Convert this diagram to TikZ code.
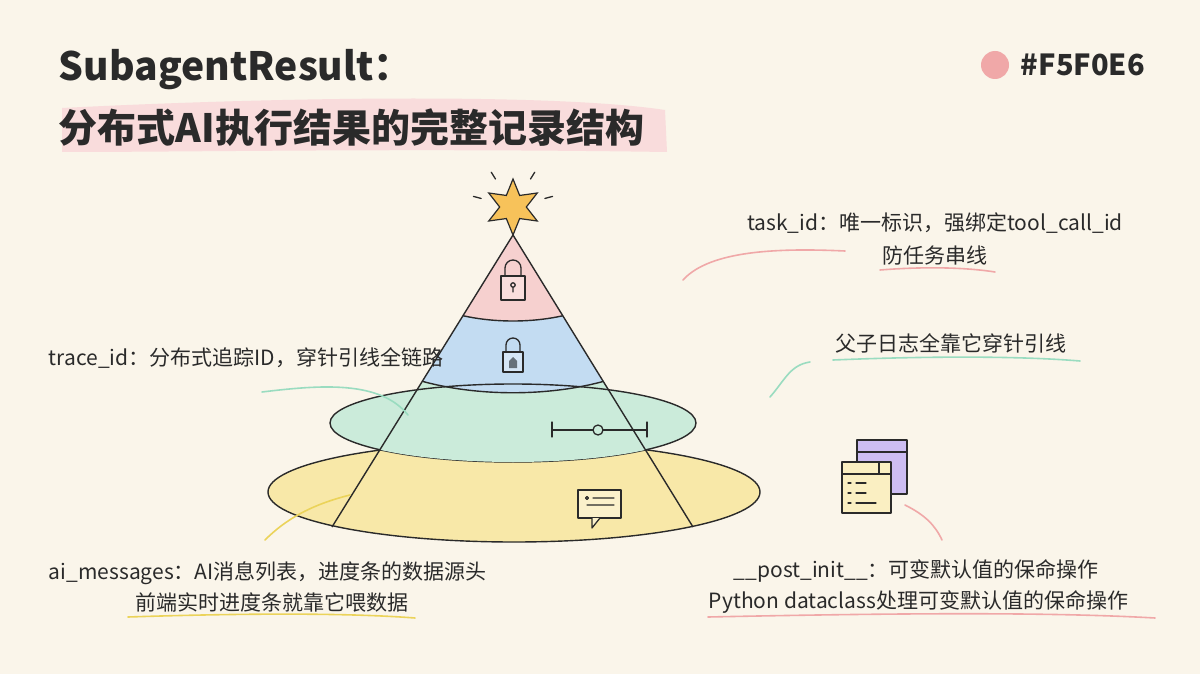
\documentclass[tikz,border=0pt]{standalone}
\usepackage{fontspec}
\setmainfont{Noto Sans CJK SC}
\usetikzlibrary{shapes.geometric,calc}
\definecolor{paper}{HTML}{FAF5EA}
\definecolor{layerpink}{HTML}{F6D0CF}
\definecolor{layerblue}{HTML}{C3DCF2}
\definecolor{layergreen}{HTML}{CBEBDA}
\definecolor{layeryellow}{HTML}{F8E8A8}
\definecolor{inkline}{HTML}{2A2A2A}
\definecolor{markpink}{HTML}{F0A8A8}
\definecolor{markgreen}{HTML}{9ADCC0}
\definecolor{markyellow}{HTML}{EBD35A}
\definecolor{starfill}{HTML}{F7C25A}
\definecolor{winpurple}{HTML}{CDBDF2}
\tikzset{
  label/.style={font=\fontsize{21}{24}\selectfont, text=inkline, inner sep=0.75pt},
  leader/.style={line width=1.6pt, line cap=round},
  edge/.style={draw=inkline, line width=1.4pt},
  icon/.style={draw=inkline, line width=1.3pt, line cap=round, line join=round},
}
\begin{document}
\begin{tikzpicture}[x=1pt,y=-1pt]
\fill[paper] (0,0) rectangle (1200,674);
\useasboundingbox (0,0) rectangle (1200,674);

% Title
\fill[markpink!40] (62,108) .. controls (300,96) and (560,94) .. (665,110) -- (667,152) .. controls (400,148) and (200,152) .. (62,152) -- cycle;
\node (title1) [label, anchor=west, font=\fontsize{39}{42}\selectfont\bfseries] at (58,70) {SubagentResult：};
\node (title2) [label, anchor=west, font=\fontsize{39}{42}\selectfont\bfseries] at (58,128) {分布式AI执行结果的完整记录结构};

% Legend
\fill[markpink] (995,65) circle (14);
\node (hex) [label, anchor=west, font=\fontsize{29}{32}\selectfont\bfseries] at (1020,65) {\#F5F0E6};

% Layers
\fill[layeryellow] (514,492) ellipse (246 and 50);
\draw[edge] (514,492) ellipse (246 and 50);
\fill[layergreen] (513,423) ellipse (183 and 39);
\draw[edge] (513,423) ellipse (183 and 39);
\begin{scope}
  \clip (513,235) -- (332,527) -- (693,527) -- cycle;
  \fill[layergreen] (300,200) rectangle (730,423);
  \fill[layergreen] (513,423) ellipse (183 and 39);
  \fill[layerblue] (300,200) -- (380,365) .. controls (450,402) and (576,402) .. (646,365) -- (730,200) -- cycle;
  \fill[layerpink] (300,200) -- (420,300) .. controls (470,328) and (556,328) .. (606,300) -- (730,200) -- cycle;
  \draw[edge] (380,365) .. controls (450,402) and (576,402) .. (646,365);
  \draw[edge] (420,300) .. controls (470,328) and (556,328) .. (606,300);
  \draw[edge] (330,423) arc (180:360:183 and 39);
\end{scope}
\coordinate (apex) at (513,235);
\coordinate (footL) at (332,527);
\coordinate (footR) at (693,527);
\draw[edge, line join=round] (footL) -- (apex) -- (footR);

% Star
\node (star) [star, star points=6, star point ratio=2.1, minimum size=56pt, fill=starfill, draw=inkline, line width=1.2pt, inner sep=0pt] at (513,207) {};
\foreach \a in {-15,-58,-122,-165} \draw[icon] ($(star)+(\a:33)$) -- ($(star)+(\a:41)$);

% Icons
\draw[icon, fill=layerpink!70] (501,276) rectangle (525,300);
\draw[icon] (505,276) -- (505,268) arc (180:360:8) -- (521,276);
\draw[icon] (513,285) circle (2.2) (513,287) -- (513,292);
\draw[icon, fill=layerblue!70] (503,352) rectangle (523,372);
\draw[icon] (506,352) -- (506,345) arc (180:360:7) -- (520,352);
\fill[inkline!60!layerblue] (509,368) -- (509,361) -- (513,357) -- (517,361) -- (517,368) -- cycle;
\draw[icon] (552,422) -- (552,437) (552,430) -- (593,430) (603,430) -- (647,430) (647,422) -- (647,437);
\draw[icon] (598,430) circle (5);
\draw[icon, fill=layeryellow!60] (578,490) rectangle (621,518);
\draw[icon, fill=layeryellow!60] (592,518) -- (592,528) -- (600,518);
\draw[icon] (587,498) circle (1.5) (593,498) -- (614,498) (587,505) -- (614,505);
\draw[icon, fill=winpurple] (857,440) rectangle (907,494);
\draw[icon] (857,452) -- (907,452);
\draw[icon, fill=layeryellow!70] (842,462) rectangle (891,513);
\draw[icon] (842,474) -- (891,474) (879,462) -- (879,474) -- (891,474);
\draw[icon] (848,483) -- (851,483) (856,483) -- (866,483) (848,493) -- (851,493) (856,493) -- (866,493) (848,503) -- (851,503) (856,503) -- (876,503);

% Leaders
\draw[leader, markpink] (683,280) .. controls (710,250) and (780,248) .. (845,251);
\draw[leader, markgreen] (770,397) .. controls (785,380) and (790,365) .. (810,362);
\draw[leader, markgreen] (408,415) .. controls (380,380) and (320,385) .. (262,392);
\draw[leader, markyellow] (350,495) .. controls (310,505) and (285,520) .. (265,540);
\draw[leader, markpink] (905,505) .. controls (925,515) and (935,525) .. (942,540);

% Underlines
\draw[leader, markpink] (880,270) .. controls (930,266) and (970,268) .. (995,272);
\draw[leader, markgreen] (833,360) .. controls (930,356) and (1020,356) .. (1080,361);
\draw[leader, markyellow] (128,617) .. controls (250,613) and (350,613) .. (415,618);
\draw[leader, markpink] (708,617) .. controls (900,613) and (1050,612) .. (1155,618);

% Labels
\node (taskA) [label] at (935,223) {task\_id：唯一标识，强绑定tool\_call\_id};
\node (taskB) [label] at (935,256) {防任务串线};
\node (trace) [label, anchor=west] at (48,358) {trace\_id：分布式追踪ID，穿针引线全链路};
\node (logs) [label, anchor=west] at (835,343) {父子日志全靠它穿针引线};
\node (msgA) [label, anchor=west] at (48,573) {ai\_messages：AI消息列表，进度条的数据源头};
\node (msgB) [label] at (272,603) {前端实时进度条就靠它喂数据};
\node (postA) [label, anchor=west] at (733,571) {\_\_post\_init\_\_：可变默认值的保命操作};
\node (postB) [label, anchor=west] at (708,602) {Python dataclass处理可变默认值的保命操作};
\end{tikzpicture}
\end{document}
